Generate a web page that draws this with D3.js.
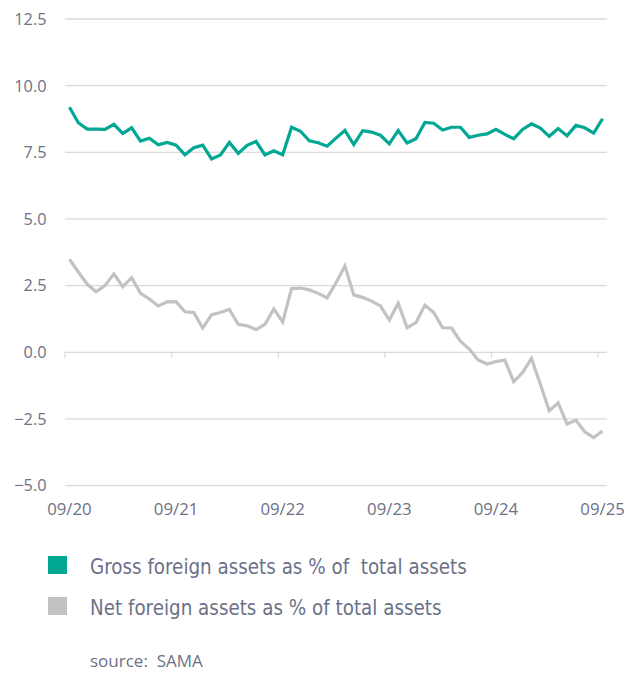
<!DOCTYPE html>
<html>
<head>
<meta charset="utf-8">
<script src="https://cdn.jsdelivr.net/npm/d3@7"></script>
<style>
  html, body { margin: 0; padding: 0; background: #fff; }
  svg text { white-space: pre; }
</style>
</head>
<body>
<svg id="chart" width="628" height="675"></svg>
<script>
// ---- data ----
const startMonth = "2020-09";
const gross = [9.19, 8.61, 8.37, 8.37, 8.36, 8.55, 8.21, 8.42, 7.92, 8.03,
  7.78, 7.87, 7.77, 7.41, 7.67, 7.77, 7.25, 7.40, 7.87, 7.46,
  7.76, 7.91, 7.40, 7.56, 7.41, 8.44, 8.29, 7.93, 7.86, 7.73,
  8.03, 8.32, 7.79, 8.31, 8.26, 8.14, 7.82, 8.32, 7.85, 8.01,
  8.62, 8.59, 8.34, 8.44, 8.44, 8.06, 8.14, 8.19, 8.36, 8.17,
  8.01, 8.36, 8.57, 8.41, 8.10, 8.39, 8.12, 8.51, 8.42, 8.22, 8.76];
const net = [3.49, 3.01, 2.55, 2.27, 2.50, 2.94, 2.46, 2.80, 2.21, 2.00,
  1.74, 1.89, 1.90, 1.52, 1.49, 0.91, 1.41, 1.49, 1.61, 1.05,
  0.99, 0.85, 1.05, 1.62, 1.14, 2.39, 2.41, 2.34, 2.21, 2.04,
  2.61, 3.24, 2.15, 2.06, 1.92, 1.74, 1.21, 1.84, 0.92, 1.11,
  1.76, 1.49, 0.92, 0.91, 0.42, 0.12, -0.29, -0.44, -0.35, -0.29,
  -1.10, -0.76, -0.23, -1.20, -2.19, -1.90, -2.69, -2.55, -2.98, -3.20, -2.95];
const yTicks = [-5, -2.5, 0, 2.5, 5, 7.5, 10, 12.5];
const xTickLabels = ["09/20", "09/21", "09/22", "09/23", "09/24", "09/25"];
const seriesNames = ["Gross foreign assets as % of  total assets", "Net foreign assets as % of total assets"];
const sourceText = "source:  SAMA";

// ---- layout ----
const colors = ["#00a894", "#c2c2c2"];
const textColor = "#6c7187";
const gridColor = "#dadada";
const svg = d3.select("#chart");

const fmt = d3.timeFormat("%m/%y");
const months = d3.range(gross.length).map(i => {
  const d = d3.timeParse("%Y-%m")(startMonth);
  return d3.timeMonth.offset(d, i);
});
const cats = months.map(fmt);

const x = d3.scaleBand().domain(cats).range([65, 607]).padding(0);
const y = d3.scaleLinear().domain([-5, 12.5]).range([485.6, 19]);
const cx = c => x(c) + x.bandwidth() / 2;

// gridlines
svg.append("g").selectAll("line").data(yTicks).join("line")
  .attr("x1", 65).attr("x2", 607)
  .attr("y1", d => y(d)).attr("y2", d => y(d))
  .attr("stroke", gridColor).attr("stroke-width", 1.3);

// y labels
svg.append("g").selectAll("text").data(yTicks).join("text")
  .attr("x", 46.5).attr("y", d => y(d)).attr("dy", "0.36em")
  .attr("text-anchor", "end")
  .attr("font-family", "'Open Sans', sans-serif").attr("font-size", 16.3)
  .attr("fill", textColor)
  .text(d => d3.format(".1f")(d));

// x ticks at band left edges, at y=0
const tickCats = cats.filter(c => xTickLabels.includes(c));
svg.append("g").selectAll("line").data(tickCats).join("line")
  .attr("x1", d => x(d)).attr("x2", d => x(d))
  .attr("y1", y(0)).attr("y2", y(0) + 5.5)
  .attr("stroke", gridColor).attr("stroke-width", 1.3);

// x labels at band centers, bottom
svg.append("g").selectAll("text").data(tickCats).join("text")
  .attr("x", d => cx(d)).attr("y", 515)
  .attr("text-anchor", "middle")
  .attr("font-family", "'Open Sans', sans-serif").attr("font-size", 16.8)
  .attr("fill", textColor)
  .text(d => d);

// lines
const line = d3.line().x((d, i) => cx(cats[i])).y(d => y(d));
[net, gross].forEach((s, k) => {
  svg.append("path").datum(s)
    .attr("d", line)
    .attr("fill", "none")
    .attr("stroke", k === 0 ? colors[1] : colors[0])
    .attr("stroke-width", 3.2)
    .attr("stroke-linejoin", "miter");
});

// legend
const legFont = "'Liberation Sans Narrow', 'DejaVu Sans Condensed', 'Roboto Condensed', sans-serif";
const lg = svg.append("g");
seriesNames.forEach((name, i) => {
  const by = 573.5 + i * 41;
  lg.append("rect").attr("x", 48).attr("y", by - 17.5).attr("width", 19).attr("height", 18)
    .attr("fill", colors[i]);
  lg.append("text").attr("x", 90).attr("y", by)
    .attr("font-family", legFont).attr("font-size", 21)
    .attr("fill", textColor).text(name);
});
// fit legend font to measured width
const first = lg.selectAll("text").nodes()[0];
const w = first.getComputedTextLength();
const fs = 21 * 377 / w;
lg.selectAll("text").attr("font-size", fs);

svg.append("text").attr("x", 90).attr("y", 667)
  .attr("font-family", "'Open Sans', sans-serif").attr("font-size", 17)
  .attr("fill", textColor).text(sourceText);
</script>
</body>
</html>
